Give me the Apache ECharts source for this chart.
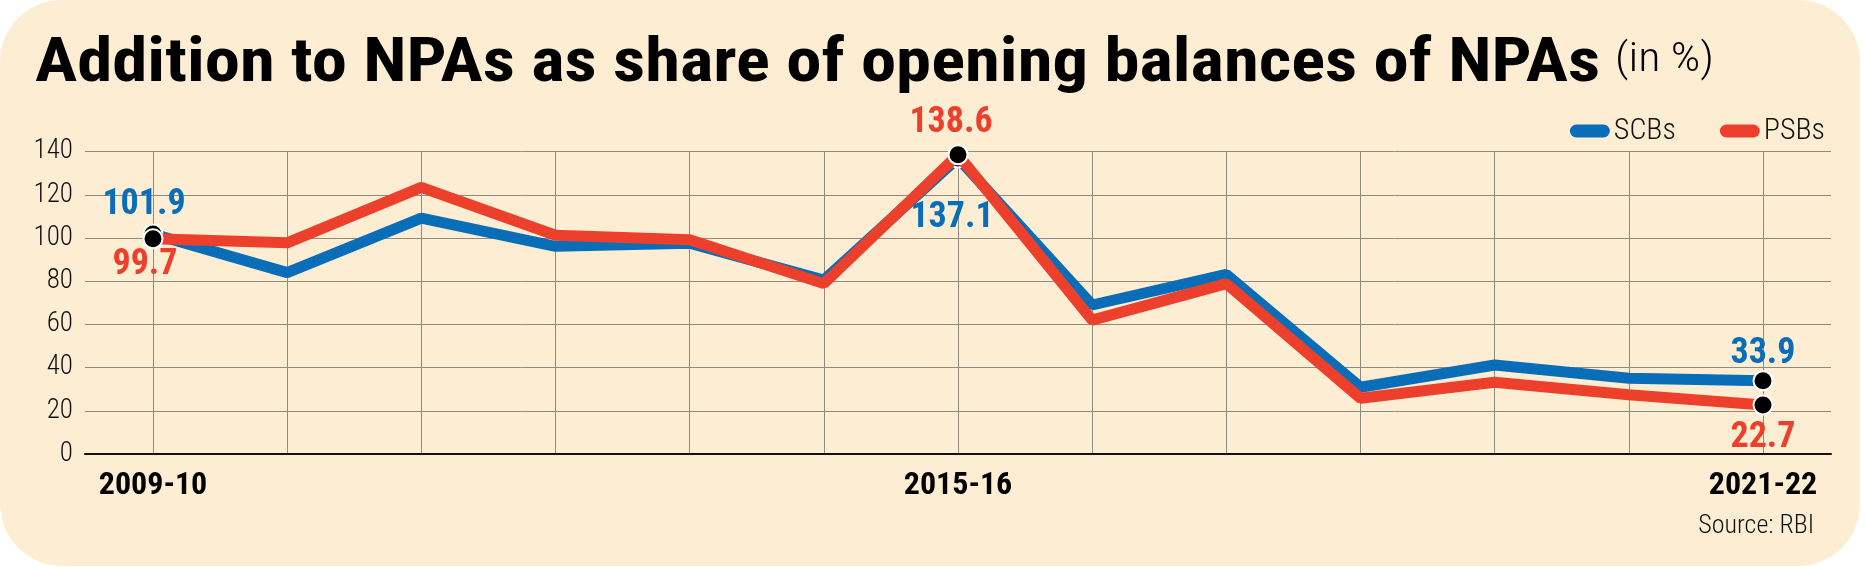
<!DOCTYPE html>
<html><head><meta charset="utf-8">
<script src="https://cdn.jsdelivr.net/npm/echarts@6/dist/echarts.min.js"></script>
<style>
html,body{margin:0;padding:0;background:#ffffff;}
#card{position:absolute;left:0;top:0;width:1860px;height:566px;background:#fdeed3;border-radius:62px;}
#chart{position:absolute;left:0;top:0;width:1866px;height:567px;}
</style></head><body><div id="card"></div><div id="chart"></div>
<script>
// ---- data ----
const years = ['2009-10','2010-11','2011-12','2012-13','2013-14','2014-15','2015-16','2016-17','2017-18','2018-19','2019-20','2020-21','2021-22'];
const scbs = [101.9, 84.0, 109.2, 96.2, 97.6, 80.5, 137.1, 69.0, 83.2, 30.9, 41.2, 35.1, 33.9];
const psbs = [99.7, 97.8, 123.5, 101.3, 99.2, 78.9, 138.6, 62.0, 78.9, 25.8, 33.2, 27.4, 22.7];
const shownYearLabels = ['2009-10','2015-16','2021-22'];
const yMin = 0, yMax = 140, yStep = 20;
const seriesNames = ['SCBs','PSBs'];
const titleMain = 'Addition to NPAs as share of opening balances of NPAs';
const titleUnit = '(in %)';
const sourceText = 'Source: RBI';

// ---- styles ----
const BLUE = '#0a6db8', RED = '#ec402c';
const NARROW = "'Roboto Condensed','DejaVu Sans Condensed',sans-serif";
// label placement per annotated year: [position, distance, dx] for SCB and PSB
const labelPlace = {
  '2009-10': {scb:['top',0,-9], psb:['bottom',-2,-8]},
  '2015-16': {scb:['bottom',32,-6], psb:['top',3,-7]},
  '2021-22': {scb:['top',-2,0], psb:['bottom',5,0]}
};

const measureCtx = document.createElement('canvas').getContext('2d');
function textWidth(txt, font) { measureCtx.font = font; return measureCtx.measureText(txt).width; }

function buildData(vals, key, color) {
  return vals.map((v, i) => {
    const y = years[i];
    const p = labelPlace[y];
    if (!p) return {value: v, symbol: 'none'};
    const [pos, dist, dx] = p[key];
    return {
      value: v, symbol: 'circle', symbolSize: 19,
      itemStyle: {color: '#000', borderColor: '#fff', borderWidth: 2},
      label: {show: true, position: pos, distance: dist, offset: [dx, 0],
        formatter: String(v), color: color, fontFamily: NARROW, fontWeight: 'bold', fontSize: 36}
    };
  });
}

// title text fitted horizontally to the reference's width
const mainFont = 'bold 62px ' + NARROW;
const unitFont = '300 40px ' + NARROW;
const mainScale = 1565 / textWidth(titleMain, mainFont);
const unitScale = 99 / textWidth(titleUnit, unitFont);

const chart = echarts.init(document.getElementById('chart'), null, {renderer: 'canvas'});
const gridTop = 151.7, gridBottom = 567 - 454;
chart.setOption({
  backgroundColor: 'transparent',
  animation: false,
  graphic: [
    {type: 'text', x: 35, y: 34, scaleX: mainScale, scaleY: 1,
      style: {text: titleMain, font: mainFont, fill: '#000', textAlign: 'left', verticalAlign: 'top'}},
    {type: 'text', x: 1615, y: 41, scaleX: unitScale, scaleY: 1,
      style: {text: titleUnit, font: unitFont, fill: '#000', textAlign: 'left', verticalAlign: 'top'}}
  ],
  title: [
    {right: 47, top: 508, text: sourceText,
      textStyle: {fontFamily: NARROW, fontWeight: 300, fontSize: 26, color: '#111'}}
  ],
  legend: {
    data: seriesNames, right: 36, top: 111, itemWidth: 40, itemHeight: 13, itemGap: 44,
    icon: 'path://M6.5,0 H33.5 A6.5,6.5 0 0 1 33.5,13 H6.5 A6.5,6.5 0 0 1 6.5,0 Z',
    textStyle: {fontFamily: NARROW, fontWeight: 300, fontSize: 30, color: '#111', padding: [0,0,0,-1]}
  },
  grid: [
    {left: 85, right: 35, top: gridTop, bottom: gridBottom},
    {left: 153, right: 103, top: gridTop, bottom: gridBottom}
  ],
  xAxis: [
    {gridIndex: 0, type: 'value', min: 0, max: 1, axisLabel: {show: false}, axisTick: {show: false},
      splitLine: {show: false}, axisLine: {show: true, onZero: false, lineStyle: {color: '#111', width: 2}}},
    {gridIndex: 1, type: 'category', data: years, boundaryGap: false,
      axisLine: {show: false}, axisTick: {show: false},
      splitLine: {show: true, lineStyle: {color: '#8f8b80', width: 1}},
      axisLabel: {interval: 0, margin: 16, fontFamily: NARROW, fontWeight: 'bold', fontSize: 32, color: '#000',
        formatter: v => shownYearLabels.includes(v) ? v : ''}}
  ],
  yAxis: [
    {gridIndex: 0, type: 'value', min: yMin, max: yMax, interval: yStep,
      axisLine: {show: false}, axisTick: {show: false},
      splitLine: {show: true, lineStyle: {color: '#8f8b80', width: 1}},
      axisLabel: {margin: 12, fontFamily: NARROW, fontWeight: 300, fontSize: 27, color: '#111'}},
    {gridIndex: 1, type: 'value', min: yMin, max: yMax, interval: yStep, show: false,
      splitLine: {show: false}}
  ],
  series: [
    {name: seriesNames[0], type: 'line', xAxisIndex: 1, yAxisIndex: 1, color: BLUE,
      lineStyle: {color: BLUE, width: 11}, z: 2, data: buildData(scbs, 'scb', BLUE)},
    {name: seriesNames[1], type: 'line', xAxisIndex: 1, yAxisIndex: 1, color: RED,
      lineStyle: {color: RED, width: 11}, z: 3, data: buildData(psbs, 'psb', RED)}
  ]
});
</script></body></html>
